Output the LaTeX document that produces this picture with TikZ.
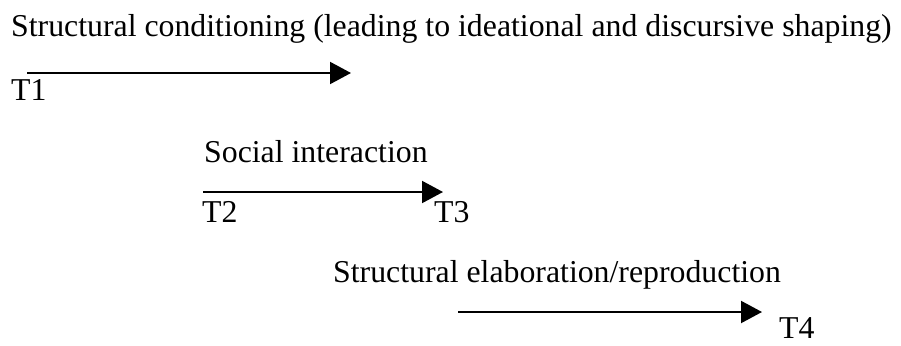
\documentclass[tikz,border=0pt]{standalone}
\usepackage{fontspec}
\setmainfont{Liberation Serif}
\usetikzlibrary{arrows.meta}
\begin{document}
\begin{tikzpicture}[x=1pt,y=-1pt,
  label/.style={inner sep=0pt,anchor=base west,font=\fontsize{31.8}{38}\selectfont},
  phase/.style={line width=2pt,-{Triangle[length=21pt,width=22pt]}}]
\useasboundingbox (0,0) rectangle (901,345);
% phase 1: structural conditioning
\node[label] (sc) at (11,37) {Structural conditioning (leading to ideational and discursive shaping)};
\coordinate (a1s) at (27,73);
\coordinate (a1e) at (351,73);
\draw[phase] (a1s) -- (a1e);
\node[label] (t1) at (11,100) {T1};
% phase 2: social interaction
\node[label] (si) at (204,162) {Social interaction};
\coordinate (a2s) at (203,192);
\coordinate (a2e) at (443,192);
\draw[phase] (a2s) -- (a2e);
\node[label] (t2) at (202,222) {T2};
\node[label] (t3) at (434,222) {T3};
% phase 3: structural elaboration
\node[label] (se) at (333,282) {Structural elaboration/reproduction};
\coordinate (a3s) at (458,312);
\coordinate (a3e) at (762,312);
\draw[phase] (a3s) -- (a3e);
\node[label] (t4) at (779,338) {T4};
\end{tikzpicture}
\end{document}
